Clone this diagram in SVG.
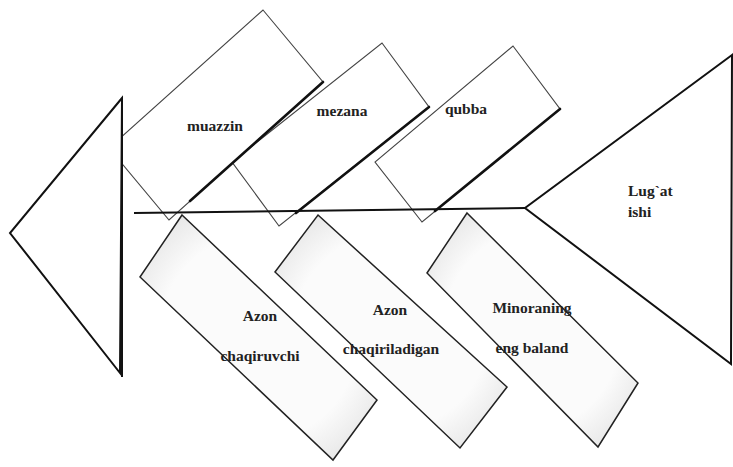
<svg xmlns="http://www.w3.org/2000/svg" width="733" height="467" viewBox="0 0 733 467">
<style>
.up{fill:#fff;stroke:#444;stroke-width:1.1}
.sh{fill:none;stroke:#111;stroke-width:2.6;stroke-linecap:round}
.lo{fill:url(#g);stroke:#222;stroke-width:1.5}
.tri{fill:#fff;stroke:#111;stroke-width:2}
.spine{fill:none;stroke:#111;stroke-width:2}
text{font-family:"Liberation Serif","Times New Roman",serif;font-size:15.5px;font-weight:bold;fill:#222}
</style>
<defs>
<radialGradient id="g" cx="50%" cy="50%" r="70%">
<stop offset="0.6" stop-color="#fbfbfb"/>
<stop offset="1" stop-color="#dcdcdc"/>
</radialGradient>
</defs>
<rect width="733" height="467" fill="#fff"/>
<g id="lower-a">
<polygon class="lo" points="182,215 377,400 333,460 140,277"/>
<text x="260" y="321" text-anchor="middle">Azon</text>
<text x="260" y="361" text-anchor="middle">chaqiruvchi</text>
</g>
<g id="lower-b">
<polygon class="lo" points="318,215 507,387 460,448 275,272"/>
<text x="390" y="315" text-anchor="middle">Azon</text>
<text x="391" y="354" text-anchor="middle">chaqiriladigan</text>
</g>
<g id="lower-c">
<polygon class="lo" points="467,213 638,383 598,447 427,273"/>
<text x="532" y="313" text-anchor="middle">Minoraning</text>
<text x="532" y="353" text-anchor="middle">eng baland</text>
</g>
<g id="qubba">
<polygon class="up" points="513,46 560,109 422,222 375,162"/>
<line class="sh" x1="560" y1="109" x2="435" y2="211"/>
<text x="466" y="114" text-anchor="middle">qubba</text>
</g>
<g id="mezana">
<polygon class="up" points="382,43 429,107 279,226 232,162"/>
<line class="sh" x1="429" y1="107" x2="296" y2="213"/>
<text x="342" y="116" text-anchor="middle">mezana</text>
</g>
<g id="muazzin">
<polygon class="up" points="263,10 323,82 169,220 109,148"/>
<line class="sh" x1="323" y1="82" x2="190" y2="201"/>
<text x="215" y="131" text-anchor="middle">muazzin</text>
</g>
<g id="tail">
<polygon class="tri" points="122,98 10,233 120,373"/>
<line class="spine" x1="122" y1="98" x2="122" y2="377"/>
</g>
<g id="head">
<polygon class="tri" points="732,55 525,208 731,364"/>
<text x="628" y="196">Lug`at</text>
<text x="628" y="217">ishi</text>
</g>
<g id="connectors">
<line class="spine" x1="134" y1="213" x2="525" y2="208"/>
</g>
</svg>
